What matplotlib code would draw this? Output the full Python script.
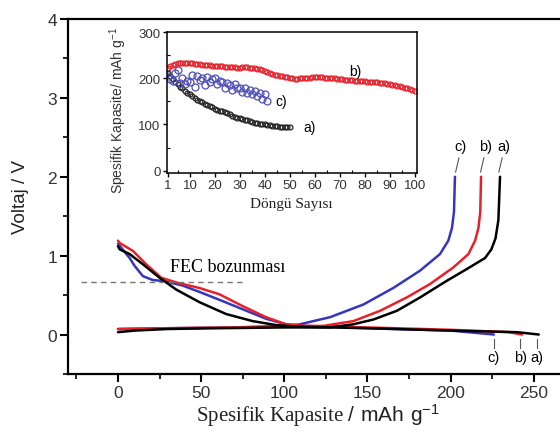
import matplotlib.pyplot as plt
from matplotlib.ticker import MultipleLocator

serif = "Liberation Serif"
sans = "Liberation Sans"
plt.rcParams["mathtext.fontset"] = "custom"
plt.rcParams["mathtext.rm"] = serif
plt.rcParams["mathtext.sf"] = sans

# main plot: discharge curves (capacity, voltage)
dis_a_x = [0, 1, 7, 15, 25, 35, 49, 65, 81, 95, 107, 150, 200, 240, 253]
dis_a_y = [1.12, 1.08, 1.02, 0.89, 0.72, 0.57, 0.41, 0.26, 0.17, 0.12, 0.10, 0.08, 0.05, 0.03, 0.0]
dis_b_x = [0, 1, 9, 17, 26, 35, 49, 61, 75, 89, 101, 112, 150, 200, 235, 243]
dis_b_y = [1.19, 1.16, 1.06, 0.89, 0.72, 0.66, 0.59, 0.51, 0.36, 0.22, 0.13, 0.11, 0.09, 0.06, 0.03, 0.0]
dis_c_x = [0, 2, 7, 10, 15, 21, 27, 39, 49, 61, 75, 89, 101, 112, 150, 200, 226]
dis_c_y = [1.15, 1.1, 0.97, 0.87, 0.74, 0.69, 0.68, 0.62, 0.54, 0.44, 0.32, 0.20, 0.13, 0.11, 0.08, 0.05, 0.0]

# main plot: charge curves
chg_a_x = [0, 10, 30, 60, 100, 127.5, 141.5, 153.5, 167.6, 181.6, 197.6, 209.7, 220.7, 224.5, 227, 228.7, 229.7]
chg_a_y = [0.03, 0.05, 0.07, 0.08, 0.09, 0.09, 0.13, 0.19, 0.30, 0.47, 0.68, 0.83, 0.97, 1.08, 1.22, 1.45, 2.0]
chg_b_x = [0, 30, 70, 100, 123.5, 141.5, 157.5, 173.6, 187.6, 201.6, 210.7, 214.7, 216.7, 217.8, 218.3]
chg_b_y = [0.07, 0.08, 0.09, 0.10, 0.11, 0.17, 0.30, 0.47, 0.64, 0.85, 1.02, 1.19, 1.35, 1.55, 2.0]
chg_c_x = [0, 30, 70, 101.4, 109.4, 127.5, 147.5, 165.5, 181.6, 193.6, 198.6, 200.8, 202.0, 202.6]
chg_c_y = [0.07, 0.08, 0.09, 0.11, 0.13, 0.22, 0.38, 0.59, 0.81, 1.02, 1.19, 1.35, 1.55, 2.0]

# inset: capacity vs cycle number
cyc_b = list(range(1, 101))
cap_b = [222, 226, 229, 231, 233, 234, 234, 233, 233, 232,
         232, 231, 230, 230, 229, 229, 228, 228, 227, 227,
         227, 226, 226, 225, 225, 225, 224, 224, 223, 223,
         224, 224, 224, 223, 223, 222, 221, 219, 217, 215,
         213, 211, 209, 208, 206, 205, 204, 203, 202, 201,
         200, 199, 199, 200, 200, 201, 201, 201, 202, 202,
         202, 202, 202, 201, 201, 201, 200, 200, 199, 199,
         198, 197, 196, 196, 196, 195, 195, 195, 194, 194,
         193, 193, 192, 192, 191, 190, 190, 189, 188, 187,
         186, 185, 184, 183, 181, 180, 178, 177, 175, 172]
cyc_a = list(range(1, 51))
cap_a = [212, 205, 199, 193, 187, 182, 178, 173, 169, 165,
         161, 157, 154, 151, 148, 145, 143, 140, 137, 134,
         132, 130, 129, 127, 125, 122, 119, 117, 115, 114,
         112, 110, 109, 107, 106, 104, 103, 102, 101, 100,
         99, 98, 97, 97, 96, 95, 95, 94, 94, 94]
cyc_c = list(range(1, 42))
cap_c = [205, 198, 195, 212, 218, 190, 200, 188, 195, 192,
         208, 182, 205, 196, 200, 185, 203, 192, 198, 200,
         188, 195, 192, 180, 190, 185, 175, 188, 178, 180,
         170, 178, 168, 175, 165, 172, 162, 168, 155, 165, 150]

blue = "#3535c0"
red = "#e8202a"

fig = plt.figure(figsize=(5.6, 4.35), dpi=100)
ax = fig.add_axes([0.1216, 0.138, 0.891, 0.816])

for xs, ys, c in [(dis_c_x, dis_c_y, blue), (chg_c_x, chg_c_y, blue),
                  (dis_b_x, dis_b_y, red), (chg_b_x, chg_b_y, red),
                  (dis_a_x, dis_a_y, "black"), (chg_a_x, chg_a_y, "black")]:
    ax.plot(xs, ys, color=c, lw=1.8, solid_capstyle="round", solid_joinstyle="round")

ax.plot([-22, 76], [0.67, 0.67], color="#777777", lw=1, ls=(0, (4, 3)))
ax.text(31, 0.86, "FEC bozunması", fontsize=13, family=serif, va="center")

# labels at the charge ends
for lab, x0 in [("c)", 203), ("b)", 218), ("a)", 229)]:
    ax.plot([x0, x0 + 2], [2.06, 2.24], color="#555555", lw=0.8)
    ax.text(x0 + 3, 2.3, lab, fontsize=10.5, family=sans, ha="center", va="bottom")
# labels at the discharge ends
for lab, x0 in [("c)", 226), ("b)", 242), ("a)", 252)]:
    ax.plot([x0, x0], [-0.06, -0.17], color="#555555", lw=0.8)
    ax.text(x0, -0.2, lab, fontsize=10.5, family=sans, ha="center", va="top")

ax.set_xlim(-30, 270)
ax.set_ylim(-0.5, 4)
ax.xaxis.set_major_locator(MultipleLocator(50))
ax.xaxis.set_minor_locator(MultipleLocator(25))
ax.yaxis.set_major_locator(MultipleLocator(1))
ax.yaxis.set_minor_locator(MultipleLocator(0.5))
ax.tick_params(which="major", direction="out", length=6, width=1.5, labelsize=12.5, pad=2,
               labelcolor="#333333")
ax.tick_params(which="minor", direction="out", length=3.5, width=1.2)
for lbl in ax.get_xticklabels() + ax.get_yticklabels():
    lbl.set_family(sans)
for s in ax.spines.values():
    s.set_linewidth(1.6)
ax.set_xlabel("Spesifik Kapasite $\\mathsf{/\\ mAh\\ g^{-1}}$", fontsize=15, family=serif,
              labelpad=1, color="#222222")
ax.set_ylabel("Voltaj / V", fontsize=13.5, family=sans, labelpad=13, color="#222222")

# inset
ins = fig.add_axes([0.298, 0.6, 0.446, 0.324])
ins.plot(cyc_b, cap_b, "o", ms=3.5, mfc="none", mec=red, mew=0.9)
ins.plot(cyc_a, cap_a, "o", ms=3.5, mfc="none", mec="#222222", mew=0.9)
ins.plot(cyc_c, cap_c, "o", ms=5, mfc="none", mec="#5050b8", mew=0.9)
ins.text(76, 216, "b)", fontsize=10, family=sans, ha="center", va="center")
ins.text(46.5, 150, "c)", fontsize=10, family=sans, ha="center", va="center")
ins.text(58, 95, "a)", fontsize=10, family=sans, ha="center", va="center")
ins.set_xlim(0.75, 100.7)
ins.set_ylim(-5, 300)
ins.set_xticks([1, 10, 20, 30, 40, 50, 60, 70, 80, 90, 100])
ins.set_yticks([0, 100, 200, 300])
ins.xaxis.set_minor_locator(MultipleLocator(5))
ins.yaxis.set_minor_locator(MultipleLocator(50))
ins.tick_params(which="major", direction="out", length=3, width=1, labelsize=9.5, pad=1.5,
                labelcolor="#333333")
ins.tick_params(which="minor", direction="in", length=2, width=0.8)
for lbl in ins.get_xticklabels() + ins.get_yticklabels():
    lbl.set_family(sans)
for s in ins.spines.values():
    s.set_linewidth(1.1)
ins.set_xlabel("Döngü Sayısı", fontsize=11, family=serif, labelpad=4, color="#222222")
ins.set_ylabel("Spesifik Kapasite/ mAh g$^{\\mathsf{-1}}$", fontsize=10, family=sans,
               color="#333333")
ins.yaxis.set_label_coords(-0.15, 0.45)

fig.savefig("out.png", dpi=100)
